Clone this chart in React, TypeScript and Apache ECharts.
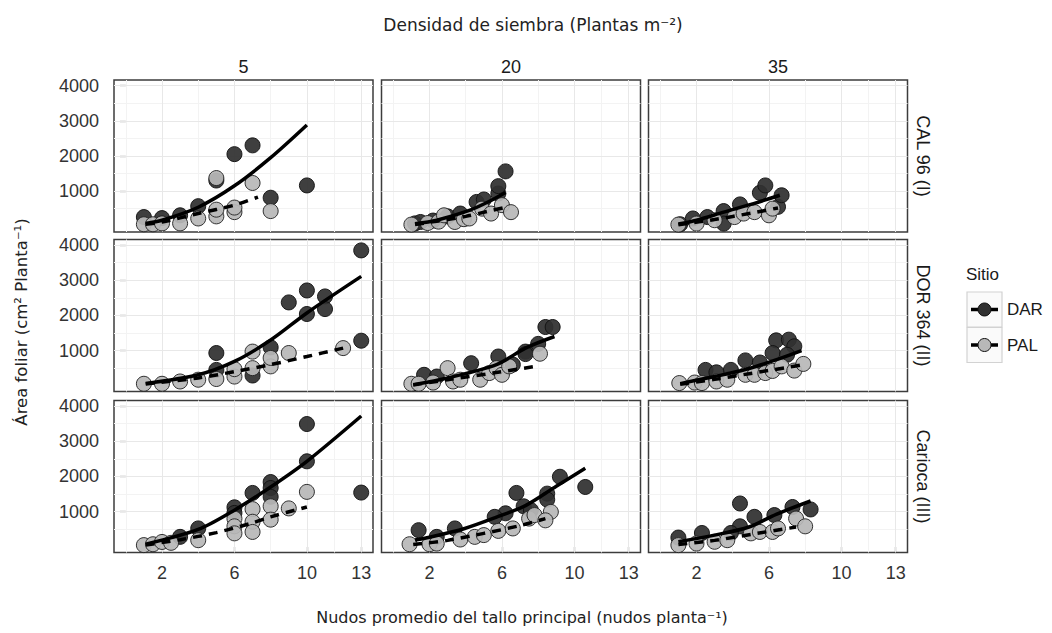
import React, { useEffect, useRef } from "react";
import * as echarts from "echarts";

// ---- labels ----
const cultivars = ["CAL 96 (I)", "DOR 364 (II)", "Carioca (III)"];
const densities = ["5", "20", "35"];
const sites = ["DAR", "PAL"];
const xTicks = [2, 6, 10, 13];
const yTicks = [1000, 2000, 3000, 4000];
const xMinor = [0, 4, 8, 11.5];
const yMinor = [500, 1500, 2500, 3500];

// ---- CAL 96 (I) ----
const cal5Dar = [[1, 260], [2, 230], [3, 310], [4, 570], [5, 1300], [6, 2050], [7, 2300], [8, 810], [10, 1160]];
const cal5Pal = [[1, 55], [1.5, 55], [2, 80], [3, 80], [4, 220], [5, 280], [5, 470], [6, 400], [6, 530], [7, 1230], [8, 430], [5, 1370]];
const cal5DarFit = [[1.1, 80], [2, 170], [4, 540], [6, 1150], [8, 1950], [10, 2880]];
const cal5PalFit = [[1.1, 55], [2, 120], [4, 360], [6, 600], [7.3, 830]];

const cal20Dar = [[1.2, 80], [1.5, 120], [2.2, 160], [3, 280], [3.7, 360], [4.6, 690], [5, 760], [5.8, 930], [5.8, 1140], [6.2, 1560]];
const cal20Pal = [[1, 45], [1.9, 90], [2.5, 130], [2.8, 310], [3.4, 120], [3.9, 200], [4.2, 220], [4.9, 500], [5.4, 360], [6, 600], [6.5, 400]];
const cal20DarFit = [[1.2, 70], [2.4, 170], [4.2, 450], [5.2, 680], [6.2, 960]];
const cal20PalFit = [[1.2, 50], [2.5, 150], [4, 280], [5.2, 420], [6.4, 560]];

const cal35Dar = [[1.1, 55], [1.8, 220], [2.6, 260], [3.5, 430], [3.5, 75], [4.4, 620], [5.5, 950], [5.8, 1160], [6.5, 550], [6.7, 880]];
const cal35Pal = [[1, 45], [2, 75], [3, 170], [4.1, 260], [4.6, 360], [5.2, 400], [6, 310], [6.2, 500]];
const cal35DarFit = [[1, 60], [2, 170], [3.5, 400], [5, 620], [6.6, 880]];
const cal35PalFit = [[1, 40], [3, 190], [5, 370], [6.5, 520]];

// ---- DOR 364 (II) ----
const dor5Dar = [[13, 3850], [10, 2710], [9, 2370], [11, 2540], [11, 2180], [10, 2040], [13, 1280], [5, 930], [8, 1090], [7, 290], [5, 450]];
const dor5Pal = [[1, 55], [2, 55], [3, 120], [4, 170], [5, 190], [6, 260], [6, 470], [7, 500], [7, 970], [8, 550], [8, 790], [9, 930], [12, 1070]];
const dor5DarFit = [[1.1, 60], [4, 310], [6, 690], [8, 1300], [10, 2070], [13, 3110]];
const dor5PalFit = [[1.1, 50], [4, 220], [6, 400], [8, 600], [10, 830], [12, 1070]];

const dor20Dar = [[8.4, 1670], [8.8, 1670], [8, 1190], [7.3, 970], [7.3, 900], [5.8, 830], [4.3, 640], [6.6, 600], [1.7, 310], [2.4, 260]];
const dor20Pal = [[1, 55], [1.4, 55], [2.2, 90], [3, 500], [3.3, 120], [3.7, 170], [4.8, 170], [5.3, 360], [5.7, 500], [6, 310], [6.4, 550], [8.1, 910]];
const dor20DarFit = [[1.1, 30], [3, 220], [5.7, 600], [7.3, 1070], [8.9, 1400]];
const dor20PalFit = [[1.1, 20], [3, 170], [5.5, 360], [8, 560]];

const dor35Dar = [[6.4, 1290], [7.1, 1310], [7.4, 1120], [6.2, 930], [4.7, 720], [5.5, 660], [7, 880], [3.9, 450], [2.5, 450], [3.1, 380]];
const dor35Pal = [[1.05, 75], [1.9, 90], [2.3, 75], [3.1, 120], [3.7, 170], [4.7, 310], [5.2, 310], [5.8, 360], [6.2, 420], [6.7, 550], [7.4, 430], [7.9, 620]];
const dor35DarFit = [[1.1, 60], [3, 260], [4.7, 460], [6.3, 720], [7.8, 1000]];
const dor35PalFit = [[1.1, 40], [3, 180], [5, 350], [7, 520], [7.9, 600]];

// ---- Carioca (III) ----
const car5Dar = [[10, 3490], [10, 2430], [13, 1540], [8, 1840], [8, 1670], [7, 1530], [8, 1420], [6, 1120], [6, 960], [4, 520], [3, 280]];
const car5Pal = [[1, 45], [1.5, 70], [2, 135], [2.5, 110], [4, 185], [6, 800], [6, 580], [6, 380], [7, 1070], [7, 710], [7, 420], [8, 1150], [8, 770], [9, 1090], [10, 1560]];
const car5DarFit = [[1.1, 70], [4, 490], [6, 1040], [8, 1700], [10, 2430], [13, 3720]];
const car5PalFit = [[1.1, 50], [3, 200], [5, 400], [7, 680], [8, 850], [10, 1130]];

const car20Dar = [[9.2, 1990], [10.6, 1700], [6.8, 1530], [8.5, 1510], [8.5, 1340], [7.2, 1150], [7.6, 1040], [6.2, 950], [5.6, 850], [3.4, 520], [1.4, 470], [2.4, 280]];
const car20Pal = [[0.9, 70], [2, 70], [2.4, 90], [3.7, 205], [4.5, 280], [5, 330], [5.8, 450], [6.6, 520], [7.5, 800], [7.8, 900], [8.7, 990], [8.4, 750]];
const car20DarFit = [[1.2, 190], [2, 270], [3.9, 510], [5.7, 840], [7.3, 1170], [9, 1720], [10.6, 2230]];
const car20PalFit = [[1.1, 60], [3, 180], [5, 380], [7, 600], [8.4, 800]];

const car35Dar = [[4.4, 1230], [8.3, 1060], [7.3, 1130], [6.3, 900], [5.2, 850], [4.4, 580], [3.9, 390], [2.3, 390], [1, 260]];
const car35Pal = [[1, 45], [2, 90], [3, 140], [3.7, 185], [5, 380], [5.5, 420], [6.2, 420], [6.5, 520], [7.5, 800], [8, 580]];
const car35DarFit = [[1, 140], [3, 330], [4.9, 560], [6.4, 920], [8.3, 1300]];
const car35PalFit = [[1, 60], [3, 180], [5, 350], [7.5, 560]];

const panels = [
  [cal5Dar, cal5Pal, cal5DarFit, cal5PalFit],
  [cal20Dar, cal20Pal, cal20DarFit, cal20PalFit],
  [cal35Dar, cal35Pal, cal35DarFit, cal35PalFit],
  [dor5Dar, dor5Pal, dor5DarFit, dor5PalFit],
  [dor20Dar, dor20Pal, dor20DarFit, dor20PalFit],
  [dor35Dar, dor35Pal, dor35DarFit, dor35PalFit],
  [car5Dar, car5Pal, car5DarFit, car5PalFit],
  [car20Dar, car20Pal, car20DarFit, car20PalFit],
  [car35Dar, car35Pal, car35DarFit, car35PalFit],
];

const gridLeft = [114, 381.5, 648.5];
const gridTop = [80, 239.5, 400.5];
const PW = 259;
const PH = 152;
const SANS = "Liberation Sans, Arial, sans-serif";
const TITLE_FONT = "DejaVu Sans, sans-serif";
const DAR_FILL = "#303030";
const PAL_FILL = "#b8b8b8";

function buildOption() {
  const grid: any[] = [];
  const xAxis: any[] = [];
  const yAxis: any[] = [];
  const series: any[] = [];
  const graphic: any[] = [];

  for (let r = 0; r < 3; r++) {
    for (let c = 0; c < 3; c++) {
      const i = r * 3 + c;
      grid.push({
        left: gridLeft[c], top: gridTop[r], width: PW, height: PH,
        show: true, backgroundColor: "#ffffff", borderColor: "#3c3c3c", borderWidth: 1.5,
      });
      xAxis.push({
        type: "value", gridIndex: i, min: -0.65, max: 13.65,
        axisLine: { show: false }, splitLine: { show: false },
        axisTick: { show: r === 2, customValues: xTicks, length: 6, lineStyle: { color: "#333", width: 1.2 } },
        axisLabel: { show: r === 2, customValues: xTicks, fontSize: 18, color: "#333", margin: 11, fontFamily: SANS, formatter: (v: number) => String(v) },
      });
      yAxis.push({
        type: "value", gridIndex: i, min: -165, max: 4160,
        axisLine: { show: false }, splitLine: { show: false },
        axisTick: { show: c === 0, customValues: yTicks, length: 6, lineStyle: { color: "#333", width: 1.2 } },
        axisLabel: { show: c === 0, customValues: yTicks, fontSize: 18, color: "#333", margin: 15, fontFamily: SANS, formatter: (v: number) => String(v) },
      });
      const ml: any[] = [];
      xMinor.forEach((v) => ml.push({ xAxis: v, lineStyle: { color: "#f3f3f3", width: 1, type: "solid" } }));
      yMinor.forEach((v) => ml.push({ yAxis: v, lineStyle: { color: "#f3f3f3", width: 1, type: "solid" } }));
      xTicks.forEach((v) => ml.push({ xAxis: v, lineStyle: { color: "#e8e8e8", width: 1, type: "solid" } }));
      yTicks.forEach((v) => ml.push({ yAxis: v, lineStyle: { color: "#e8e8e8", width: 1, type: "solid" } }));
      series.push({
        type: "scatter", xAxisIndex: i, yAxisIndex: i, data: [], silent: true, z: 1,
        markLine: { silent: true, z: 1, symbol: "none", label: { show: false }, data: ml },
      });
      const [dar, pal, darFit, palFit] = panels[i];
      series.push({
        name: sites[0], type: "scatter", xAxisIndex: i, yAxisIndex: i, data: dar, z: 3,
        symbolSize: 15,
        itemStyle: { color: DAR_FILL, borderColor: "#111", borderWidth: 1, opacity: 0.93 },
      });
      series.push({
        name: sites[1], type: "scatter", xAxisIndex: i, yAxisIndex: i, data: pal, z: 4,
        symbolSize: 15,
        itemStyle: { color: PAL_FILL, borderColor: "#222", borderWidth: 1, opacity: 0.93 },
      });
      series.push({
        name: sites[0], type: "line", xAxisIndex: i, yAxisIndex: i, data: darFit, z: 5,
        smooth: 0.3, symbol: "none", showSymbol: false,
        lineStyle: { color: "#000", width: 3.5, type: "solid", cap: "butt" },
      });
      series.push({
        name: sites[1], type: "line", xAxisIndex: i, yAxisIndex: i, data: palFit, z: 5,
        smooth: 0.3, symbol: "none", showSymbol: false,
        lineStyle: { color: "#000", width: 3.5, type: [9, 7], cap: "butt" },
      });
    }
  }

  // strip labels (top)
  densities.forEach((d, c) => {
    graphic.push({
      type: "text", x: gridLeft[c] + PW / 2, y: 67,
      style: { text: d, fontSize: 18, fontFamily: SANS, fill: "#1a1a1a", align: "center", verticalAlign: "middle" },
    });
  });
  // strip labels (right)
  cultivars.forEach((cv, r) => {
    graphic.push({
      type: "text", x: 923, y: gridTop[r] + PH / 2, rotation: -Math.PI / 2,
      style: { text: cv, fontSize: 18, fontFamily: SANS, fill: "#1a1a1a", align: "center", verticalAlign: "middle" },
    });
  });
  // titles
  graphic.push({
    type: "text", x: 533, y: 25,
    style: { text: "Densidad de siembra (Plantas m⁻²)", fontSize: 17, fontFamily: TITLE_FONT, fill: "#222", align: "center", verticalAlign: "middle" },
  });
  graphic.push({
    type: "text", x: 522, y: 617,
    style: { text: "Nudos promedio del tallo principal (nudos planta⁻¹)", fontSize: 16, fontFamily: TITLE_FONT, fill: "#222", align: "center", verticalAlign: "middle" },
  });
  graphic.push({
    type: "text", x: 21, y: 322, rotation: Math.PI / 2,
    style: { text: "Área foliar (cm² Planta⁻¹)", fontSize: 16.5, fontFamily: TITLE_FONT, fill: "#222", align: "center", verticalAlign: "middle" },
  });
  // legend
  graphic.push({
    type: "text", x: 966, y: 274,
    style: { text: "Sitio", fontSize: 17, fontFamily: SANS, fill: "#1a1a1a", align: "left", verticalAlign: "middle" },
  });
  sites.forEach((s, k) => {
    const y0 = 292 + k * 35.5;
    const cy = y0 + 17.5;
    graphic.push({ type: "rect", shape: { x: 967, y: y0, width: 35, height: 35 }, style: { fill: "#fafafa", stroke: "#d2d2d2", lineWidth: 1.2 } });
    graphic.push({ type: "line", shape: { x1: 971, y1: cy, x2: 998, y2: cy }, style: { stroke: "#000", lineWidth: 3.5 } });
    graphic.push({ type: "circle", shape: { cx: 984.5, cy, r: 6.5 }, style: { fill: k === 0 ? DAR_FILL : PAL_FILL, stroke: "#111", lineWidth: 1 } });
    graphic.push({
      type: "text", x: 1007, y: cy,
      style: { text: s, fontSize: 17, fontFamily: SANS, fill: "#1a1a1a", align: "left", verticalAlign: "middle" },
    });
  });

  return {
    animation: false,
    backgroundColor: "#ffffff",
    grid, xAxis, yAxis, series, graphic,
  };
}

export default function App() {
  const ref = useRef<HTMLDivElement>(null);
  useEffect(() => {
    if (!ref.current) return;
    const chart = echarts.init(ref.current, undefined, { renderer: "svg" });
    chart.setOption(buildOption() as any);
    return () => chart.dispose();
  }, []);
  return <div ref={ref} style={{ position: "fixed", left: 0, top: 0, width: 1052, height: 633 }} />;
}
